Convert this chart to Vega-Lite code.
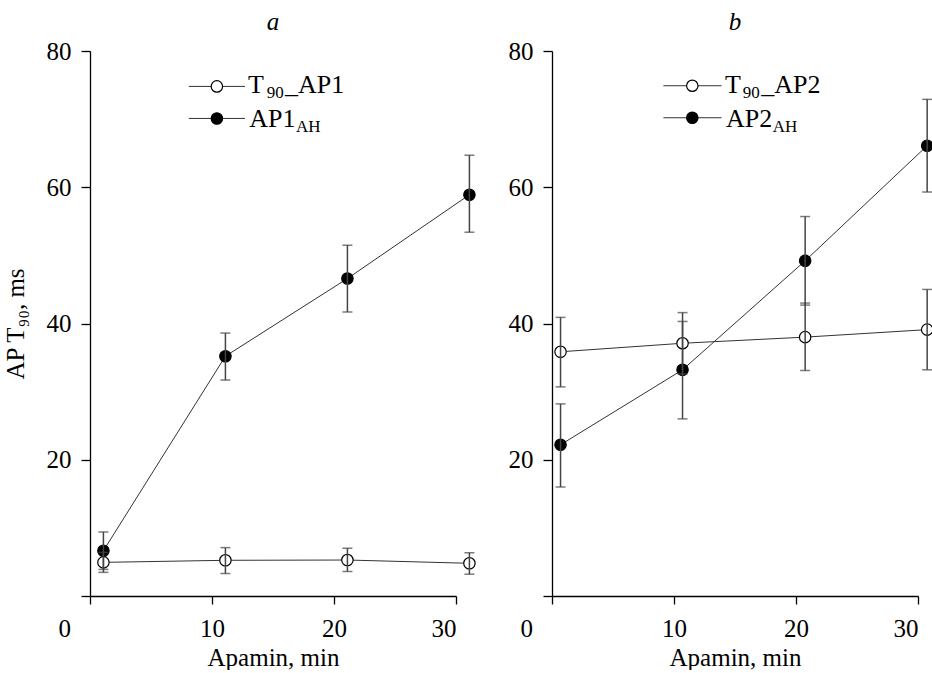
{
  "$schema": "https://vega.github.io/schema/vega-lite/v6.json",
  "padding": {"left": 3, "top": 10, "right": 0, "bottom": 0},
  "background": "white",
  "spacing": 30,
  "config": {
    "view": {"stroke": null},
    "font": "Liberation Serif",
    "axis": {
      "grid": false,
      "domainColor": "black",
      "domainWidth": 1.3,
      "tickColor": "black",
      "tickWidth": 1.3,
      "tickSize": 9,
      "labelFont": "Liberation Serif",
      "labelFontSize": 25,
      "labelColor": "black",
      "labelPadding": 10,
      "titleFont": "Liberation Serif",
      "titleFontSize": 25,
      "titleFontWeight": "normal",
      "titleColor": "black"
    },
    "title": {"font": "Liberation Serif", "fontSize": 25, "fontStyle": "italic", "fontWeight": "normal", "color": "black", "anchor": "middle", "offset": 4}
  },
  "datasets": {
    "pts": [
      {"panel": "a", "series": "T90", "x": 1.1, "y": 4.94, "lo": 3.47, "hi": 6.4},
      {"panel": "a", "series": "T90", "x": 11.1, "y": 5.24, "lo": 3.3, "hi": 7.1},
      {"panel": "a", "series": "T90", "x": 21.1, "y": 5.28, "lo": 3.6, "hi": 7.0},
      {"panel": "a", "series": "T90", "x": 31.1, "y": 4.8, "lo": 3.2, "hi": 6.35},
      {"panel": "a", "series": "AH", "x": 1.1, "y": 6.65, "lo": 3.9, "hi": 9.4},
      {"panel": "a", "series": "AH", "x": 11.1, "y": 35.2, "lo": 31.7, "hi": 38.6},
      {"panel": "a", "series": "AH", "x": 21.1, "y": 46.6, "lo": 41.7, "hi": 51.5},
      {"panel": "a", "series": "AH", "x": 31.1, "y": 58.9, "lo": 53.4, "hi": 64.7},
      {"panel": "b", "series": "T90", "x": 0.7, "y": 35.85, "lo": 30.7, "hi": 40.9},
      {"panel": "b", "series": "T90", "x": 10.7, "y": 37.1, "lo": 32.6, "hi": 41.6},
      {"panel": "b", "series": "T90", "x": 20.75, "y": 38.0, "lo": 33.1, "hi": 43.0},
      {"panel": "b", "series": "T90", "x": 30.75, "y": 39.1, "lo": 33.2, "hi": 45.0},
      {"panel": "b", "series": "AH", "x": 0.7, "y": 22.2, "lo": 16.0, "hi": 28.2},
      {"panel": "b", "series": "AH", "x": 10.7, "y": 33.2, "lo": 26.0, "hi": 40.3},
      {"panel": "b", "series": "AH", "x": 20.75, "y": 49.2, "lo": 42.7, "hi": 55.7},
      {"panel": "b", "series": "AH", "x": 30.75, "y": 66.1, "lo": 59.3, "hi": 72.9}
    ],
    "leg": [
      {"panel": "a", "series": "T90", "x1": 8.1, "x2": 12.7, "xc": 10.4, "y": 74.8},
      {"panel": "a", "series": "AH", "x1": 8.1, "x2": 12.7, "xc": 10.4, "y": 70.1},
      {"panel": "b", "series": "T90", "x1": 9.13, "x2": 13.9, "xc": 11.5, "y": 74.9},
      {"panel": "b", "series": "AH", "x1": 9.13, "x2": 13.9, "xc": 11.5, "y": 70.2}
    ],
    "legtxt": [
      {"panel": "a", "kind": "main", "x": 12.95, "y": 73.9, "text": "T"},
      {"panel": "a", "kind": "sub", "x": 14.48, "y": 73.9, "text": "90"},
      {"panel": "a", "kind": "main", "x": 15.98, "y": 73.9, "text": "_AP1"},
      {"panel": "a", "kind": "main", "x": 13.06, "y": 68.8, "text": "AP1"},
      {"panel": "a", "kind": "sub", "x": 16.89, "y": 68.8, "text": "AH"},
      {"panel": "b", "kind": "main", "x": 14.19, "y": 73.9, "text": "T"},
      {"panel": "b", "kind": "sub", "x": 15.64, "y": 73.9, "text": "90"},
      {"panel": "b", "kind": "main", "x": 17.15, "y": 73.9, "text": "_AP2"},
      {"panel": "b", "kind": "main", "x": 14.27, "y": 68.8, "text": "AP2"},
      {"panel": "b", "kind": "sub", "x": 18.1, "y": 68.8, "text": "AH"}
    ]
  },
  "hconcat": [
    {
      "width": 366,
      "height": 545,
      "title": {"text": "a"},
      "layer": [
        {
          "data": {"name": "pts"},
          "transform": [{"filter": "datum.panel === 'a'"}],
          "mark": {"type": "line", "color": "#333", "strokeWidth": 1},
          "encoding": {
            "x": {"field": "x", "type": "quantitative", "scale": {"domain": [0, 30], "nice": false, "zero": false},
                  "axis": {"title": "Apamin, min", "values": [0, 10, 20, 30], "tickSize": 8, "labelPadding": 12, "titlePadding": 4,
                           "labelOffset": {"condition": {"test": "datum.value === 0", "value": -32}, "value": 0}}},
            "y": {"field": "y", "type": "quantitative", "scale": {"domain": [0, 80], "nice": false},
                  "axis": {"title": "AP T₉₀, ms", "titleColor": "black", "values": [0, 20, 40, 60, 80], "labelExpr": "datum.value === 0 ? '' : datum.label", "titlePadding": 18}},
            "detail": {"field": "series"}
          }
        },
        {
          "data": {"name": "pts"},
          "transform": [{"filter": "datum.panel === 'a'"}],
          "mark": {"type": "point", "shape": "circle", "size": 130, "filled": true, "stroke": "black", "strokeWidth": 1.2, "opacity": 1},
          "encoding": {
            "x": {"field": "x", "type": "quantitative"},
            "y": {"field": "y", "type": "quantitative"},
            "fill": {"field": "series", "type": "nominal", "scale": {"domain": ["T90", "AH"], "range": ["white", "black"]}, "legend": null}
          }
        },
        {
          "data": {"name": "pts"},
          "transform": [{"filter": "datum.panel === 'a'"}],
          "mark": {"type": "rule", "color": "#444", "strokeWidth": 1.5},
          "encoding": {
            "x": {"field": "x", "type": "quantitative"},
            "y": {"field": "lo", "type": "quantitative"},
            "y2": {"field": "hi"}
          }
        },
        {
          "data": {"name": "pts"},
          "transform": [{"filter": "datum.panel === 'a'"}],
          "mark": {"type": "tick", "orient": "horizontal", "size": 10, "thickness": 1.5, "color": "#444"},
          "encoding": {
            "x": {"field": "x", "type": "quantitative"},
            "y": {"field": "lo", "type": "quantitative"}
          }
        },
        {
          "data": {"name": "pts"},
          "transform": [{"filter": "datum.panel === 'a'"}],
          "mark": {"type": "tick", "orient": "horizontal", "size": 10, "thickness": 1.5, "color": "#444"},
          "encoding": {
            "x": {"field": "x", "type": "quantitative"},
            "y": {"field": "hi", "type": "quantitative"}
          }
        },
        {
          "data": {"name": "leg"},
          "transform": [{"filter": "datum.panel === 'a'"}],
          "mark": {"type": "rule", "color": "#333", "strokeWidth": 1},
          "encoding": {
            "x": {"field": "x1", "type": "quantitative"},
            "x2": {"field": "x2"},
            "y": {"field": "y", "type": "quantitative"}
          }
        },
        {
          "data": {"name": "leg"},
          "transform": [{"filter": "datum.panel === 'a'"}],
          "mark": {"type": "point", "shape": "circle", "size": 130, "filled": true, "stroke": "black", "strokeWidth": 1.2, "opacity": 1},
          "encoding": {
            "x": {"field": "xc", "type": "quantitative"},
            "y": {"field": "y", "type": "quantitative"},
            "fill": {"field": "series", "type": "nominal", "legend": null}
          }
        },
        {
          "data": {"name": "legtxt"},
          "transform": [{"filter": "datum.panel === 'a' && datum.kind === 'main'"}],
          "mark": {"type": "text", "align": "left", "baseline": "alphabetic", "font": "Liberation Serif", "fontSize": 26, "color": "black"},
          "encoding": {
            "x": {"field": "x", "type": "quantitative"},
            "y": {"field": "y", "type": "quantitative"},
            "text": {"field": "text"}
          }
        },
        {
          "data": {"name": "legtxt"},
          "transform": [{"filter": "datum.panel === 'a' && datum.kind === 'sub'"}],
          "mark": {"type": "text", "align": "left", "baseline": "alphabetic", "dy": 5, "font": "Liberation Serif", "fontSize": 17, "color": "black"},
          "encoding": {
            "x": {"field": "x", "type": "quantitative"},
            "y": {"field": "y", "type": "quantitative"},
            "text": {"field": "text"}
          }
        }
      ]
    },
    {
      "width": 366,
      "height": 545,
      "title": {"text": "b"},
      "layer": [
        {
          "data": {"name": "pts"},
          "transform": [{"filter": "datum.panel === 'b'"}],
          "mark": {"type": "line", "color": "#333", "strokeWidth": 1},
          "encoding": {
            "x": {"field": "x", "type": "quantitative", "scale": {"domain": [0, 30], "nice": false, "zero": false},
                  "axis": {"title": "Apamin, min", "values": [0, 10, 20, 30], "tickSize": 8, "labelPadding": 12, "titlePadding": 4,
                           "labelOffset": {"condition": {"test": "datum.value === 0", "value": -32}, "value": 0}}},
            "y": {"field": "y", "type": "quantitative", "scale": {"domain": [0, 80], "nice": false},
                  "axis": {"title": null, "values": [0, 20, 40, 60, 80], "labelExpr": "datum.value === 0 ? '' : datum.label"}},
            "detail": {"field": "series"}
          }
        },
        {
          "data": {"name": "pts"},
          "transform": [{"filter": "datum.panel === 'b'"}],
          "mark": {"type": "point", "shape": "circle", "size": 130, "filled": true, "stroke": "black", "strokeWidth": 1.2, "opacity": 1},
          "encoding": {
            "x": {"field": "x", "type": "quantitative"},
            "y": {"field": "y", "type": "quantitative"},
            "fill": {"field": "series", "type": "nominal", "scale": {"domain": ["T90", "AH"], "range": ["white", "black"]}, "legend": null}
          }
        },
        {
          "data": {"name": "pts"},
          "transform": [{"filter": "datum.panel === 'b'"}],
          "mark": {"type": "rule", "color": "#444", "strokeWidth": 1.5},
          "encoding": {
            "x": {"field": "x", "type": "quantitative"},
            "y": {"field": "lo", "type": "quantitative"},
            "y2": {"field": "hi"}
          }
        },
        {
          "data": {"name": "pts"},
          "transform": [{"filter": "datum.panel === 'b'"}],
          "mark": {"type": "tick", "orient": "horizontal", "size": 10, "thickness": 1.5, "color": "#444"},
          "encoding": {
            "x": {"field": "x", "type": "quantitative"},
            "y": {"field": "lo", "type": "quantitative"}
          }
        },
        {
          "data": {"name": "pts"},
          "transform": [{"filter": "datum.panel === 'b'"}],
          "mark": {"type": "tick", "orient": "horizontal", "size": 10, "thickness": 1.5, "color": "#444"},
          "encoding": {
            "x": {"field": "x", "type": "quantitative"},
            "y": {"field": "hi", "type": "quantitative"}
          }
        },
        {
          "data": {"name": "leg"},
          "transform": [{"filter": "datum.panel === 'b'"}],
          "mark": {"type": "rule", "color": "#333", "strokeWidth": 1},
          "encoding": {
            "x": {"field": "x1", "type": "quantitative"},
            "x2": {"field": "x2"},
            "y": {"field": "y", "type": "quantitative"}
          }
        },
        {
          "data": {"name": "leg"},
          "transform": [{"filter": "datum.panel === 'b'"}],
          "mark": {"type": "point", "shape": "circle", "size": 130, "filled": true, "stroke": "black", "strokeWidth": 1.2, "opacity": 1},
          "encoding": {
            "x": {"field": "xc", "type": "quantitative"},
            "y": {"field": "y", "type": "quantitative"},
            "fill": {"field": "series", "type": "nominal", "legend": null}
          }
        },
        {
          "data": {"name": "legtxt"},
          "transform": [{"filter": "datum.panel === 'b' && datum.kind === 'main'"}],
          "mark": {"type": "text", "align": "left", "baseline": "alphabetic", "font": "Liberation Serif", "fontSize": 26, "color": "black"},
          "encoding": {
            "x": {"field": "x", "type": "quantitative"},
            "y": {"field": "y", "type": "quantitative"},
            "text": {"field": "text"}
          }
        },
        {
          "data": {"name": "legtxt"},
          "transform": [{"filter": "datum.panel === 'b' && datum.kind === 'sub'"}],
          "mark": {"type": "text", "align": "left", "baseline": "alphabetic", "dy": 5, "font": "Liberation Serif", "fontSize": 17, "color": "black"},
          "encoding": {
            "x": {"field": "x", "type": "quantitative"},
            "y": {"field": "y", "type": "quantitative"},
            "text": {"field": "text"}
          }
        }
      ]
    }
  ]
}
